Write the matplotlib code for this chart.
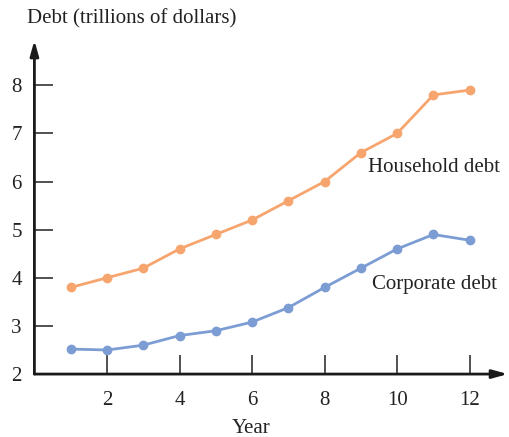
import matplotlib.pyplot as plt

plt.rcParams['font.family'] = ['Liberation Serif', 'DejaVu Serif']

years = [1, 2, 3, 4, 5, 6, 7, 8, 9, 10, 11, 12]
household = [3.8, 4.0, 4.2, 4.6, 4.9, 5.2, 5.6, 6.0, 6.6, 7.0, 7.8, 7.9]
corporate = [2.52, 2.5, 2.6, 2.8, 2.9, 3.08, 3.38, 3.8, 4.2, 4.6, 4.9, 4.78]
xticks = [2, 4, 6, 8, 10, 12]
yticks = [2, 3, 4, 5, 6, 7, 8]

orange = '#F7A56E'
blue = '#7C9DD4'

fig = plt.figure(figsize=(5.09, 4.37), dpi=100)
ax = fig.add_axes([0.0676, 0.144, 0.93, 0.76])

ax.plot(years, household, color=orange, lw=2, marker='o', ms=6, clip_on=False)
ax.plot(years, corporate, color=blue, lw=2, marker='o', ms=6, clip_on=False)

ax.set_xlim(0, 13.05)
ax.set_ylim(2, 8.9)
ax.set_xticks(xticks)
ax.set_yticks(yticks)

for s in ['top', 'right', 'left', 'bottom']:
    ax.spines[s].set_visible(False)

# axes drawn as arrows
ax.annotate('', xy=(1, 0), xytext=(0, 0), xycoords='axes fraction',
            arrowprops=dict(arrowstyle='-|>,head_length=0.9,head_width=0.25',
                            color='#1a1a1a', lw=2, shrinkA=0, shrinkB=0))
ax.annotate('', xy=(0, 1.005), xytext=(0, 0), xycoords='axes fraction',
            arrowprops=dict(arrowstyle='-|>,head_length=0.9,head_width=0.25',
                            color='#1a1a1a', lw=2, shrinkA=0, shrinkB=0))

ax.tick_params(direction='in', length=14, width=1.2, color='#333333',
               labelsize=15, labelcolor='#222222')
ax.tick_params(axis='x', pad=12)
ax.tick_params(axis='y', pad=9)

ax.text(9.2, 6.29, 'Household debt', fontsize=15, color='#222222', va='center')
ax.text(9.3, 3.87, 'Corporate debt', fontsize=15, color='#222222', va='center')

fig.text(0.053, 0.958, 'Debt (trillions of dollars)', fontsize=15, color='#222222',
         va='center', ha='left')
fig.text(0.493, 0.02, 'Year', fontsize=15, color='#222222', va='center', ha='center')

fig.savefig('out.png', dpi=100)
